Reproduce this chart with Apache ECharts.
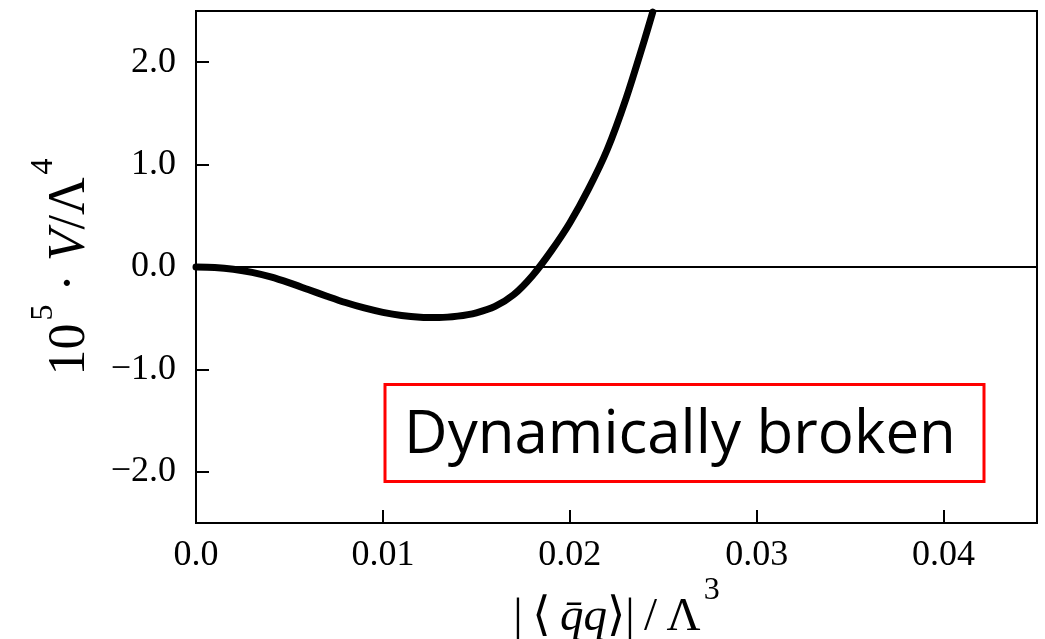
<!DOCTYPE html>
<html>
<head>
<meta charset="utf-8">
<script src="https://cdn.jsdelivr.net/npm/echarts@6/dist/echarts.min.js"></script>
<style>
  html, body { margin: 0; padding: 0; background: #fff; }
  #chart { width: 1045px; height: 639px; }
</style>
</head>
<body>
<div id="chart"></div>
<script>
// Effective potential vs condensate, sampled along the curve
const condensate = [0.0, 0.001, 0.002, 0.003, 0.004, 0.005, 0.006, 0.007, 0.008, 0.009,
                    0.010, 0.011, 0.012, 0.013, 0.014, 0.015, 0.016, 0.017, 0.018, 0.019,
                    0.020, 0.021, 0.022, 0.023, 0.024, 0.02444];
const potential  = [0.0, -0.005, -0.022, -0.052, -0.097, -0.155, -0.22, -0.285, -0.347, -0.40,
                    -0.443, -0.474, -0.491, -0.494, -0.480, -0.447, -0.385, -0.27, -0.085, 0.155,
                    0.43, 0.76, 1.145, 1.64, 2.22, 2.49];

// Tick positions and their labels
const xTicks = [0.0, 0.01, 0.02, 0.03, 0.04];
const xTickLabels = ['0.0', '0.01', '0.02', '0.03', '0.04'];
const yTicks = [-2, -1, 0, 1, 2];
const yTickLabels = ['\u22122.0', '\u22121.0', '0.0', '1.0', '2.0'];

const regimeLabel = 'Dynamically broken';

const serif = '"Liberation Serif", "DejaVu Serif", serif';

function labelFor(ticks, labels) {
  return function (v) {
    for (let i = 0; i < ticks.length; i++) {
      if (Math.abs(ticks[i] - v) < 1e-9) return labels[i];
    }
    return '';
  };
}

// Rich styles for the axis titles: base text sits low in a tall line, exponents at the top
function titleRich(size, supSize, lineH) {
  return {
    n: { fontFamily: serif, fontSize: size, color: '#000', lineHeight: lineH, verticalAlign: 'bottom' },
    i: { fontFamily: serif, fontSize: size, fontStyle: 'italic', color: '#000', lineHeight: lineH, verticalAlign: 'bottom' },
    s: { fontFamily: serif, fontSize: supSize, color: '#000', lineHeight: supSize, verticalAlign: 'top', padding: [0, 0, 0, 3] }
  };
}

const chart = echarts.init(document.getElementById('chart'), null, { renderer: 'canvas' });

chart.setOption({
  animation: false,
  backgroundColor: '#ffffff',
  grid: {
    left: 196, right: 8, top: 11, bottom: 116,
    containLabel: false,
    outerBoundsMode: 'none',
    show: true, borderColor: '#000', borderWidth: 2, backgroundColor: 'transparent'
  },
  xAxis: {
    type: 'value',
    min: 0, max: 0.045,
    name: '{n||\u2009\u27E8\u2009}{i|q\u0304q}{n|\u27E9|\u2009/\u2009\u039B}{s|3}',
    nameLocation: 'middle',
    nameGap: 52,
    nameMoveOverlap: false,
    nameTextStyle: { rich: titleRich(47, 32, 66) },
    axisLine: { show: true, onZero: false, lineStyle: { color: '#000', width: 2 } },
    axisTick: { show: true, inside: true, length: 13, lineStyle: { color: '#000', width: 2 }, customValues: xTicks },
    axisLabel: {
      customValues: xTicks,
      formatter: labelFor(xTicks, xTickLabels),
      fontFamily: serif, fontSize: 36, color: '#000', margin: 15
    },
    splitLine: { show: false }
  },
  yAxis: {
    type: 'value',
    min: -2.5, max: 2.5,
    name: '{n|10}{s|5}{n| \u00B7 }{i|V}{n|/\u039B}{s|4}',
    nameLocation: 'middle',
    nameRotate: 90,
    nameGap: 100,
    nameMoveOverlap: false,
    nameTextStyle: { rich: titleRich(52, 32, 68) },
    axisLine: { show: true, onZero: false, lineStyle: { color: '#000', width: 2 } },
    axisTick: { show: true, inside: true, length: 13, lineStyle: { color: '#000', width: 2 }, customValues: yTicks },
    axisLabel: {
      customValues: yTicks,
      formatter: labelFor(yTicks, yTickLabels),
      fontFamily: serif, fontSize: 36, color: '#000', margin: 20
    },
    splitLine: { show: false }
  },
  series: [{
    type: 'line',
    data: condensate.map((x, i) => [x, potential[i]]),
    smooth: 0.3,
    showSymbol: false,
    symbol: 'none',
    clip: true,
    lineStyle: { color: '#000', width: 7, cap: 'round', join: 'round' },
    markLine: {
      silent: true,
      symbol: 'none',
      label: { show: false },
      lineStyle: { color: '#000', width: 2, type: 'solid' },
      data: [{ yAxis: 0 }]
    },
    z: 3
  }],
  graphic: [
    {
      type: 'rect',
      shape: { x: 385, y: 384.5, width: 599, height: 97 },
      style: { fill: '#fff', stroke: '#ff0000', lineWidth: 3 },
      z: 10
    },
    {
      type: 'text',
      x: 680, y: 436,
      style: {
        text: regimeLabel,
        fontFamily: '"Open Sans", "Noto Sans", sans-serif',
        fontSize: 60,
        fill: '#000',
        align: 'center',
        verticalAlign: 'middle'
      },
      z: 11
    }
  ]
});
</script>
</body>
</html>
